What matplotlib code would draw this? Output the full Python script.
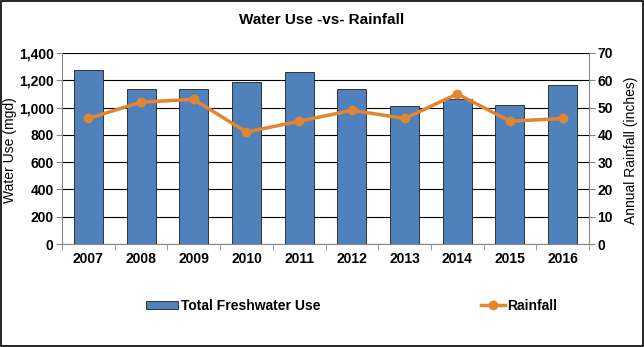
import matplotlib
matplotlib.use("Agg")
import matplotlib.pyplot as plt
import numpy as np
from matplotlib.patches import Rectangle

years = ["2007", "2008", "2009", "2010", "2011", "2012", "2013", "2014", "2015", "2016"]
water_use = [1275, 1136, 1136, 1187, 1260, 1136, 1011, 1065, 1020, 1165]
rainfall = [46, 52, 53, 41, 45, 49, 46, 55, 45, 46]
left_ticks = [0, 200, 400, 600, 800, 1000, 1200, 1400]
right_ticks = [0, 10, 20, 30, 40, 50, 60, 70]

plt.rcParams["font.family"] = ["Liberation Sans", "DejaVu Sans"]

fig = plt.figure(figsize=(6.44, 3.47), dpi=100)
ax = fig.add_axes([62 / 644, 1 - 244 / 347, (589 - 62) / 644, (244 - 53) / 347])

x = np.arange(len(years))
bars = ax.bar(x, water_use, width=0.55, color="#4f81bd", edgecolor="#1f1f1f",
              linewidth=0.6, zorder=3, label="Total Freshwater Use")
ax.set_xlim(-0.5, len(years) - 0.5)
ax.set_ylim(0, 1400)
ax.set_yticks(left_ticks)
ax.set_yticklabels([f"{v:,}" for v in left_ticks], fontsize=10, fontweight="bold")
ax.set_xticks(x)
ax.set_xticklabels(years, fontsize=10, fontweight="bold")
ax.tick_params(axis="x", length=0, pad=6)
ax.set_xticks(np.arange(-0.5, len(years), 1), minor=True)
ax.tick_params(axis="x", which="minor", length=4, color="#888888")
ax.tick_params(axis="y", length=4, color="#888888", pad=2)
ax.grid(axis="y", color="black", linewidth=0.8, zorder=0)
ax.set_axisbelow(True)
for s in ["top", "right"]:
    ax.spines[s].set_visible(False)
ax.spines["left"].set_color("#888888")
ax.spines["bottom"].set_color("#888888")

ax2 = ax.twinx()
line, = ax2.plot(x, rainfall, color="#e3852f", linewidth=2.5, marker="o",
                 markersize=6, zorder=5, label="Rainfall")
ax2.set_ylim(0, 70)
ax2.set_yticks(right_ticks)
ax2.set_yticklabels([str(v) for v in right_ticks], fontsize=10, fontweight="bold")
ax2.tick_params(axis="y", length=4, color="#888888", pad=2)
for s in ["top", "left", "bottom"]:
    ax2.spines[s].set_visible(False)
ax2.spines["right"].set_color("#888888")

fig.text(10 / 644, 1 - 150 / 347, "Water Use (mgd)", rotation=90, ha="center",
         va="center", fontsize=10)
fig.text(631 / 644, 1 - 150 / 347, "Annual Rainfall (inches)", rotation=90, ha="center",
         va="center", fontsize=10)
fig.text(0.5, 1 - 20 / 347, "Water Use -vs- Rainfall", ha="center", va="center",
         fontsize=11, fontweight="bold")

# legend below plot, two entries placed separately
leg_y = 1 - 306 / 347
leg1 = fig.legend(handles=[bars], labels=["Total Freshwater Use"], loc="center left",
                  bbox_to_anchor=(146 / 644, leg_y), frameon=False, borderpad=0,
                  borderaxespad=0, prop={"size": 10, "weight": "bold"},
                  handlelength=2.3, handleheight=0.5, handletextpad=0.2)
fig.legend(handles=[line], labels=["Rainfall"], loc="center left",
           bbox_to_anchor=(481 / 644, leg_y), frameon=False, borderpad=0,
           borderaxespad=0, prop={"size": 10, "weight": "bold"},
           handlelength=1.7, handletextpad=0.2)

fig.patches.append(Rectangle((0.001, 0.002), 0.997, 0.996, transform=fig.transFigure,
                             fill=False, edgecolor="black", linewidth=1.2))

fig.savefig("out.png", dpi=100)
